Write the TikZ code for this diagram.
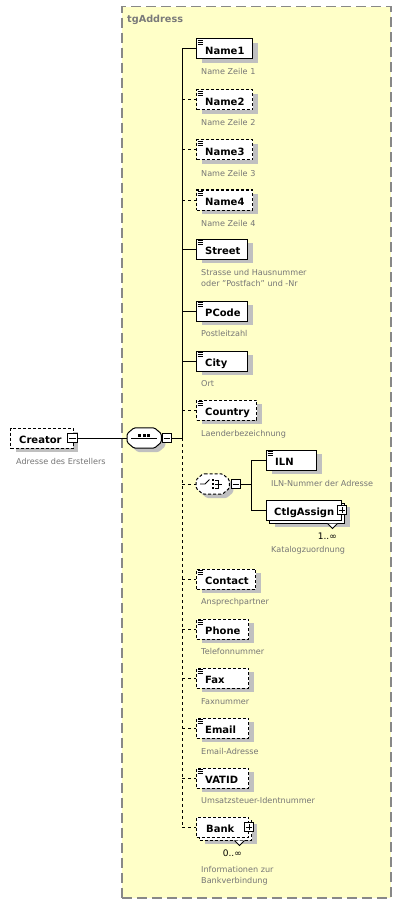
\documentclass[tikz,border=0pt]{standalone}
\usepackage{fontspec}
\setmainfont{DejaVu Sans}
\usetikzlibrary{shadows}
\definecolor{grpfill}{HTML}{FFFFC8}
\definecolor{grpline}{HTML}{888888}
\definecolor{grptext}{HTML}{7A7A7A}
\definecolor{shgray}{HTML}{C0C0C0}
\definecolor{desccol}{HTML}{767676}
\tikzset{
  boxbase/.style={draw=black, line width=1pt, fill=white, inner sep=0pt, minimum height=20pt, anchor=west},
  boxshadow/.style={drop shadow={shadow xshift=5pt, shadow yshift=-4pt, opacity=1, fill=shgray}},
  reqbox/.style={boxbase, boxshadow},
  optbox/.style={boxbase, boxshadow, dash pattern=on 3pt off 2pt},
  reqplain/.style={boxbase},
  optplain/.style={boxbase, dash pattern=on 3pt off 2pt},
  etext/.style={font=\bfseries\fontsize{10}{11}\selectfont, inner sep=0pt, anchor=base west},
  dtext/.style={font=\fontsize{8.1}{10}\selectfont, text=desccol, inner sep=0pt, anchor=base west},
  mtext/.style={font=\fontsize{9}{11}\selectfont, inner sep=0pt, anchor=base east},
  gtext/.style={font=\bfseries\fontsize{9.7}{11}\selectfont, text=grptext, inner sep=0pt, anchor=base west},
  conn/.style={draw=black, line width=1pt},
  connopt/.style={conn, dash pattern=on 3pt off 3pt},
  pmbox/.style={draw=black, line width=0.9pt, fill=white, minimum size=9.5pt, inner sep=0pt},
  pmline/.style={line width=0.8pt},
  iconline/.style={line width=0.8pt},
  grp/.style={draw=grpline, fill=grpfill, line width=1.5pt, dash pattern=on 10pt off 5pt, inner sep=0pt},
  compnode/.style={minimum width=#1, minimum height=20pt, inner sep=0pt, anchor=west},
  comp/.style={draw=black, fill=white, line width=1pt, rounded corners=1.5pt},
  compopt/.style={comp, dash pattern=on 3pt off 2pt},
  compshadow/.style={fill=shgray, draw=none, rounded corners=1.5pt, transform canvas={xshift=4pt,yshift=-4pt}},
  chev/.style={draw=black, fill=white, line width=0.9pt},
}
% element with simple-content icon: name, style, left x, center y, width, text
\newcommand{\xelem}[6]{%
  \node[#2, minimum width=#5pt] (#1) at (#3,#4) {};
  \node[etext] (#1t) at ([xshift=9pt,yshift=-5.5pt]#1.west) {#6};
  \draw[iconline] ([xshift=1.5pt,yshift=-2pt]#1.north west) -- ++(5,0)
     ([xshift=1.5pt,yshift=-4pt]#1.north west) -- ++(5,0)
     ([xshift=1.5pt,yshift=-6pt]#1.north west) -- ++(5,0);
}
% element without icon
\newcommand{\xcelem}[7]{%
  \node[#2, minimum width=#5pt] (#1) at (#3,#4) {};
  \node[etext] (#1t) at ([xshift=#7pt,yshift=-5.5pt]#1.west) {#6};
}
\newcommand{\compshape}[2]{%
  \path[#2] ([xshift=7pt]#1.north west) -- ([xshift=-7pt]#1.north east)
    -- ([yshift=-6pt]#1.north east) -- ([yshift=6pt]#1.south east)
    -- ([xshift=-7pt]#1.south east) -- ([xshift=7pt]#1.south west)
    -- ([yshift=6pt]#1.south west) -- ([yshift=-6pt]#1.north west) -- cycle;}
\newcommand{\minusbox}[3]{%
  \node[pmbox] (#1) at (#2,#3) {};
  \draw[pmline] ([xshift=2pt]#1.west) -- ([xshift=-2pt]#1.east);}
\newcommand{\plusbox}[2]{%
  \node[pmbox] (#1) at (#2) {};
  \draw[pmline] ([xshift=2pt]#1.west) -- ([xshift=-2pt]#1.east)
     ([yshift=2pt]#1.south) -- ([yshift=-2pt]#1.north);}
\begin{document}
\begin{tikzpicture}[x=1pt,y=-1pt]
\useasboundingbox (0,0) rectangle (400,904);
\fill[white] (0,0) rectangle (400,904);

% group
\node[grp, minimum width=269pt, minimum height=891pt, anchor=north west] (grpbox) at (121,6) {};
\node[gtext] (grplbl) at (127,22.7) {tgAddress};

% trunk
\coordinate (ttop) at (182,49);
\coordinate (tmid) at (182,438);
\coordinate (tbot) at (182,827);
\draw[conn] (ttop) -- (tmid);
\draw[connopt] (tmid) -- (tbot);

% Creator
\node[optbox, minimum width=62.7pt] (cr) at (10,438) {};
\node[etext] (crt) at ([xshift=9pt,yshift=-5.5pt]cr.west) {Creator};
\minusbox{crm}{72.5}{438}
\node[dtext] (crd) at (16,464) {Adresse des Erstellers};

% sequence compositor
\node[compnode=34pt] (seq) at (127,438) {};
\compshape{seq}{compshadow}
\compshape{seq}{comp}
\draw[line width=1pt] ([xshift=4pt]seq.west) -- ([xshift=-4pt]seq.east);
\fill ([xshift=-6.2pt,yshift=1.5pt]seq.center) rectangle ++(3,-3);
\fill ([xshift=-1.5pt,yshift=1.5pt]seq.center) rectangle ++(3,-3);
\fill ([xshift=3.2pt,yshift=1.5pt]seq.center) rectangle ++(3,-3);
\minusbox{seqm}{166.7}{438}
\draw[conn] (crm.east) -- (seq.west);
\draw[conn] (seqm.east) -- (tmid);

% elements
\xelem{N1}{reqbox}{196}{49}{56}{Name1}
\node[dtext] (N1d) at (201,75) {Name Zeile 1};
\draw[conn] (N1.west -| ttop) -- (N1.west);

\xelem{N2}{optbox}{196}{100}{56}{Name2}
\node[dtext] (N2d) at (201,126) {Name Zeile 2};
\draw[connopt] (N2.west -| ttop) -- (N2.west);

\xelem{N3}{optbox}{196}{150}{56}{Name3}
\node[dtext] (N3d) at (201,176) {Name Zeile 3};
\draw[connopt] (N3.west -| ttop) -- (N3.west);

\xelem{N4}{optbox}{196}{200}{56}{Name4}
\node[dtext] (N4d) at (201,226) {Name Zeile 4};
\draw[connopt] (N4.west -| ttop) -- (N4.west);

\xelem{ST}{reqbox}{196}{249}{51}{Street}
\node[dtext] (STd1) at (201,275) {Strasse und Hausnummer};
\node[dtext] (STd2) at (201,286.5) {oder "Postfach" und -Nr};
\draw[conn] (ST.west -| ttop) -- (ST.west);

\xelem{PC}{reqbox}{196}{311}{51}{PCode}
\node[dtext] (PCd) at (201,336) {Postleitzahl};
\draw[conn] (PC.west -| ttop) -- (PC.west);

\xelem{CI}{reqbox}{196}{361}{51}{City}
\node[dtext] (CId) at (201,386) {Ort};
\draw[conn] (CI.west -| ttop) -- (CI.west);

\xelem{CO}{optbox}{196}{410}{60}{Country}
\node[dtext] (COd) at (201,436) {Laenderbezeichnung};
\draw[connopt] (CO.west -| ttop) -- (CO.west);

% choice compositor
\node[compnode=33pt] (ch) at (196,484) {};
\compshape{ch}{compshadow}
\compshape{ch}{compopt}
\draw[line width=0.9pt] (200,484) -- (205,484) -- (209.5,479.5);
\fill (212,479) rectangle ++(2,2);
\fill (212,483) rectangle ++(2,2);
\fill (212,487) rectangle ++(2,2);
\draw[line width=0.9pt] (215,480) -- (218,480) -- (218,488) -- (215,488) (215,484) -- (222,484);
\minusbox{chm}{235.7}{484}
\draw[connopt] (ch.west -| ttop) -- (ch.west);
\coordinate (btop) at (251,460);
\coordinate (bbot) at (251,510);
\draw[conn] (chm.east) -- (chm.east -| btop);
\draw[conn] (btop) -- (bbot);

\xelem{ILN}{reqbox}{266}{460}{50}{ILN}
\node[dtext] (ILNd) at (271,486) {ILN-Nummer der Adresse};
\draw[conn] (btop) -- (ILN.west);

\node[reqbox, minimum width=75pt] (CAb) at (269,513) {};
\xcelem{CA}{reqplain}{266}{510}{75}{CtlgAssign}{8}
\plusbox{CAp}{CA.east}
\draw[chev] ([xshift=-14.5pt]CAp.center |- CAb.south) -- ++(5,5) -- ++(5,-5);
\node[mtext] (CAm) at (337,539) {1..∞};
\node[dtext] (CAd) at (271,552) {Katalogzuordnung};
\draw[conn] (bbot) -- (CA.west);

\xelem{CT}{optbox}{196}{579}{59}{Contact}
\node[dtext] (CTd) at (201,604) {Ansprechpartner};
\draw[connopt] (CT.west -| ttop) -- (CT.west);

\xelem{PH}{optbox}{196}{629}{52}{Phone}
\node[dtext] (PHd) at (201,654) {Telefonnummer};
\draw[connopt] (PH.west -| ttop) -- (PH.west);

\xelem{FX}{optbox}{196}{678}{52}{Fax}
\node[dtext] (FXd) at (201,704) {Faxnummer};
\draw[connopt] (FX.west -| ttop) -- (FX.west);

\xelem{EM}{optbox}{196}{728}{52}{Email}
\node[dtext] (EMd) at (201,754) {Email-Adresse};
\draw[connopt] (EM.west -| ttop) -- (EM.west);

\xelem{VA}{optbox}{196}{778}{52}{VATID}
\node[dtext] (VAd) at (201,803.5) {Umsatzsteuer-Identnummer};
\draw[connopt] (VA.west -| ttop) -- (VA.west);

\node[optbox, minimum width=52pt] (BKb) at (199,830) {};
\xcelem{BK}{optplain}{196}{827}{52}{Bank}{10}
\plusbox{BKp}{BK.east}
\draw[chev] ([xshift=-14.5pt]BKp.center |- BKb.south) -- ++(5,5) -- ++(5,-5);
\node[mtext] (BKm) at (242,856) {0..∞};
\node[dtext] (BKd1) at (201,872) {Informationen zur};
\node[dtext] (BKd2) at (201,883.5) {Bankverbindung};
\draw[connopt] (BK.west -| ttop) -- (BK.west);
\end{tikzpicture}
\end{document}
